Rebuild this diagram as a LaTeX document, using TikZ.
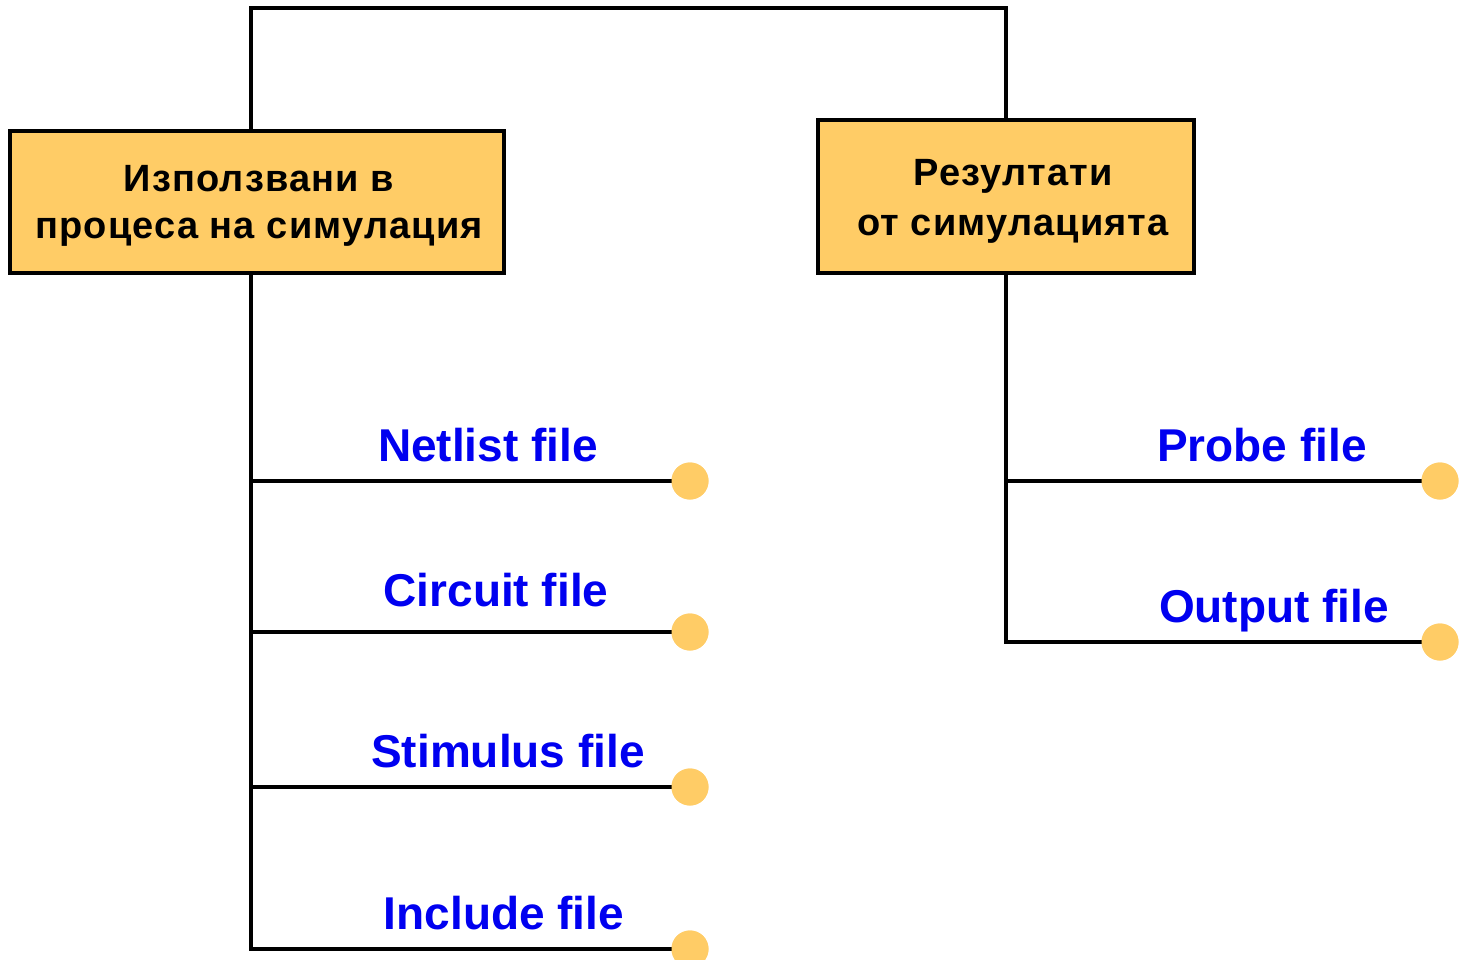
\documentclass[tikz,border=0pt]{standalone}
\usepackage{fontspec}
\setmainfont{Liberation Sans}
\newfontfamily\boxfont{Liberation Sans}[LetterSpace=3]
\definecolor{boxfill}{HTML}{FFCC66}
\definecolor{labelblue}{HTML}{0000F0}
\begin{document}
\begin{tikzpicture}[x=1pt,y=-1pt,
  wire/.style={line width=4pt,draw=black,line cap=rect},
  groupbox/.style={draw=black,line width=4pt,fill=boxfill,inner sep=0pt},
  boxtext/.style={align=center,inner sep=0pt,font=\boxfont\bfseries\fontsize{38}{47}\selectfont},
  terminal/.style={circle,fill=boxfill,inner sep=0pt,minimum size=37pt},
  filelabel/.style={anchor=base,text=labelblue,font=\bfseries\fontsize{46}{50}\selectfont}]
  \useasboundingbox (0,0) rectangle (1459,959);

  % group boxes and their titles
  \node[groupbox,minimum width=494pt,minimum height=142pt] (L) at (257,202) {};
  \node[groupbox,minimum width=376pt,minimum height=153pt] (R) at (1006,196.5) {};
  \node[boxtext] (Lt) at (259,206) {Използвани в\\процеса на симулация};
  \node[boxtext,font=\boxfont\bfseries\fontsize{38}{50}\selectfont] (Rt) at (1013,201.5)
    {Резултати\\от симулацията};

  % terminals
  \node[terminal] (d1) at (690,481) {};
  \node[terminal] (d2) at (690,632) {};
  \node[terminal] (d3) at (690,787) {};
  \node[terminal] (d4) at (690,949) {};
  \node[terminal] (d5) at (1440,481) {};
  \node[terminal] (d6) at (1440,642) {};

  % trunk routing
  \coordinate (topL) at (251,8);
  \coordinate (topR) at (1006,8);
  \draw[wire] (L.north -| topL) -- (topL) -- (topR) -- (R.north);
  \draw[wire] (L.south -| topL) |- (d4.center);
  \draw[wire] (d1.center -| topL) -- (d1.center);
  \draw[wire] (d2.center -| topL) -- (d2.center);
  \draw[wire] (d3.center -| topL) -- (d3.center);
  \draw[wire] (R.south) |- (d6.center);
  \draw[wire] (d5.center -| R.south) -- (d5.center);

  % terminals drawn again above the wires
  \foreach \d in {d1,d2,d3,d4,d5,d6}
    \fill[boxfill] (\d) circle (18.5pt);

  % file labels
  \node[filelabel] (n1) at (488,461) {Netlist file};
  \node[filelabel] (n2) at (496,606) {Circuit file};
  \node[filelabel] (n3) at (508,767) {Stimulus file};
  \node[filelabel] (n4) at (504,929) {Include file};
  \node[filelabel] (n5) at (1262,461) {Probe file};
  \node[filelabel] (n6) at (1274,622) {Output file};
\end{tikzpicture}
\end{document}
